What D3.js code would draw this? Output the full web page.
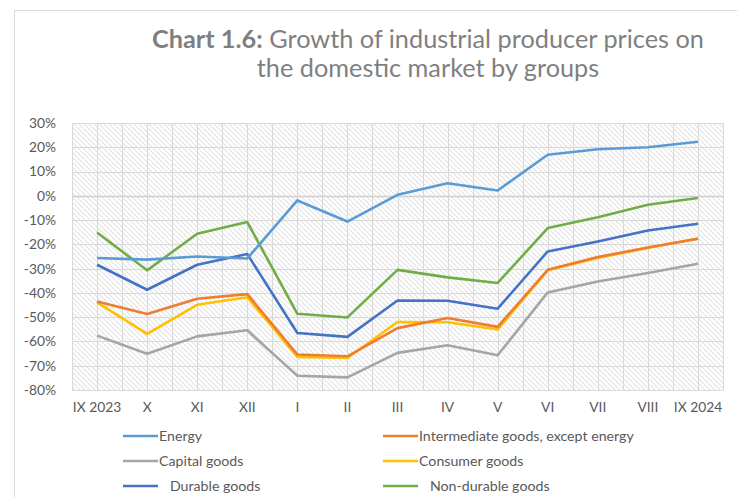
<!DOCTYPE html>
<html>
<head>
<meta charset="utf-8">
<script src="https://cdn.jsdelivr.net/npm/d3@7"></script>
<style>
  body { margin: 0; background: #fff; }
  svg { display: block; font-family: Lato, "Open Sans", sans-serif; }
</style>
</head>
<body>
<svg width="737" height="497"></svg>
<script>
var months = ["IX 2023", "X", "XI", "XII", "I", "II", "III", "IV", "V", "VI", "VII", "VIII", "IX 2024"];
var yTicks = [30, 20, 10, 0, -10, -20, -30, -40, -50, -60, -70, -80];

var energy       = [-25.6, -26.3, -25.0, -25.8, -1.9, -10.6, 0.4, 5.2, 2.2, 16.9, 19.2, 20.0, 22.3];
var intermediate = [-43.5, -48.7, -42.4, -40.5, -65.4, -66.1, -54.5, -50.3, -54.0, -30.5, -25.2, -21.3, -17.7];
var capital      = [-57.6, -65.1, -57.9, -55.4, -74.1, -74.8, -64.7, -61.6, -65.7, -39.8, -35.3, -31.8, -28.0];
var consumer     = [-43.9, -56.9, -44.9, -41.8, -66.4, -66.8, -52.0, -52.1, -55.1, -30.7, -25.6, -21.5, -17.6];
var durable      = [-28.4, -38.7, -28.4, -24.0, -56.5, -58.1, -43.1, -43.2, -46.5, -22.9, -18.8, -14.3, -11.5];
var nondurable   = [-15.1, -30.7, -15.6, -10.8, -48.6, -50.1, -30.5, -33.6, -35.9, -13.3, -8.8, -3.7, -0.9];

var series = [
    { name: "Energy", values: energy, color: "#5B9BD5" },
    { name: "Intermediate goods, except energy", values: intermediate, color: "#ED7D31" },
    { name: "Capital goods", values: capital, color: "#A5A5A5" },
    { name: "Consumer goods", values: consumer, color: "#FFC000" },
    { name: "   Durable goods", values: durable, color: "#4472C4" },
    { name: "   Non-durable goods", values: nondurable, color: "#70AD47" }
];
// drawing order: back to front
var drawOrder = [2, 3, 1, 4, 5, 0];

var svg = d3.select("svg");
var textColor = "#595959";
var gridColor = "#d9d9d9";

// outer frame
svg.append("path")
    .attr("d", "M14.5,497 L14.5,10.5 L737,10.5")
    .attr("fill", "none")
    .attr("stroke", "#d9d9d9");

// title
var title = svg.append("text")
    .attr("x", 428).attr("y", 48)
    .attr("text-anchor", "middle")
    .attr("font-size", 25.3)
    .attr("fill", "#7f7f7f");
title.append("tspan").attr("font-weight", "bold").text("Chart 1.6:");
title.append("tspan").text(" Growth of industrial producer prices on");
svg.append("text")
    .attr("x", 428).attr("y", 77)
    .attr("text-anchor", "middle")
    .attr("font-size", 25.3)
    .attr("fill", "#7f7f7f")
    .text("the domestic market by groups");

var plotLeft = 72, plotRight = 723, plotTop = 123, plotBottom = 390;

var x = d3.scaleBand().domain(months).range([plotLeft, plotRight]);
var y = d3.scaleLinear().domain([-80, 30]).range([plotBottom, plotTop]);

// hatched background
var defs = svg.append("defs");
var pat = defs.append("pattern")
    .attr("id", "hatch")
    .attr("patternUnits", "userSpaceOnUse")
    .attr("width", 5).attr("height", 5);
pat.append("rect").attr("width", 5).attr("height", 5).attr("fill", "#fff");
pat.append("path")
    .attr("d", "M-1,-1 L6,6 M-1,4 L1,6 M4,-1 L6,1")
    .attr("stroke", "#e3e3e3")
    .attr("stroke-width", 1.1);

svg.append("rect")
    .attr("x", plotLeft).attr("y", plotTop)
    .attr("width", plotRight - plotLeft).attr("height", plotBottom - plotTop)
    .attr("fill", "url(#hatch)");

// vertical gridlines (category boundaries and centres)
var vLines = [];
months.forEach(function (m) {
    vLines.push(x(m));
    vLines.push(x(m) + x.bandwidth() / 2);
});
vLines.push(plotRight);
svg.append("g").selectAll("line").data(vLines).enter().append("line")
    .attr("x1", function (d) { return Math.round(d) + 0.5; })
    .attr("x2", function (d) { return Math.round(d) + 0.5; })
    .attr("y1", plotTop).attr("y2", plotBottom)
    .attr("stroke", gridColor).attr("stroke-width", 1);

// horizontal gridlines
svg.append("g").selectAll("line").data(yTicks).enter().append("line")
    .attr("x1", plotLeft).attr("x2", plotRight)
    .attr("y1", function (d) { return Math.round(y(d)) + 0.5; })
    .attr("y2", function (d) { return Math.round(y(d)) + 0.5; })
    .attr("stroke", function (d) { return d === 0 ? "#cfcfcf" : gridColor; })
    .attr("stroke-width", function (d) { return d === 0 ? 1.5 : 1; });

// y axis labels
var yAxis = d3.axisLeft(y).tickValues(yTicks)
    .tickFormat(function (d) { return d + "%"; })
    .tickSize(0).tickPadding(16);
var gy = svg.append("g").attr("transform", "translate(" + plotLeft + ",0)").call(yAxis);
gy.select(".domain").remove();
gy.selectAll("text").attr("fill", textColor).attr("font-size", 13.8)
    .attr("font-family", "Lato, 'Open Sans', sans-serif");

// x axis labels
var xAxis = d3.axisBottom(x).tickSize(0).tickPadding(12);
var gx = svg.append("g").attr("transform", "translate(0," + plotBottom + ")").call(xAxis);
gx.select(".domain").remove();
gx.selectAll("text").attr("fill", textColor).attr("font-size", 13.8)
    .attr("font-family", "Lato, 'Open Sans', sans-serif");

// lines
var line = d3.line()
    .x(function (d, i) { return x(months[i]) + x.bandwidth() / 2; })
    .y(function (d) { return y(d); });

svg.append("g").selectAll("path")
    .data(drawOrder.map(function (i) { return series[i]; }))
    .enter().append("path")
    .attr("d", function (d) { return line(d.values); })
    .attr("fill", "none")
    .attr("stroke", function (d) { return d.color; })
    .attr("stroke-width", 2.6)
    .attr("stroke-linejoin", "round");

// legend
var legendX = [123, 383];
var legendY = [436, 461, 486];
var legend = svg.append("g").selectAll("g").data(series).enter().append("g")
    .attr("transform", function (d, i) {
        return "translate(" + legendX[i % 2] + "," + legendY[Math.floor(i / 2)] + ")";
    });
legend.append("line")
    .attr("x1", 0).attr("x2", 35)
    .attr("stroke", function (d) { return d.color; })
    .attr("stroke-width", 2.6);
legend.append("text")
    .attr("x", 36).attr("dy", "0.35em")
    .attr("font-size", 14.2)
    .attr("fill", textColor)
    .attr("xml:space", "preserve")
    .style("white-space", "pre")
    .text(function (d) { return d.name; });
</script>
</body>
</html>
